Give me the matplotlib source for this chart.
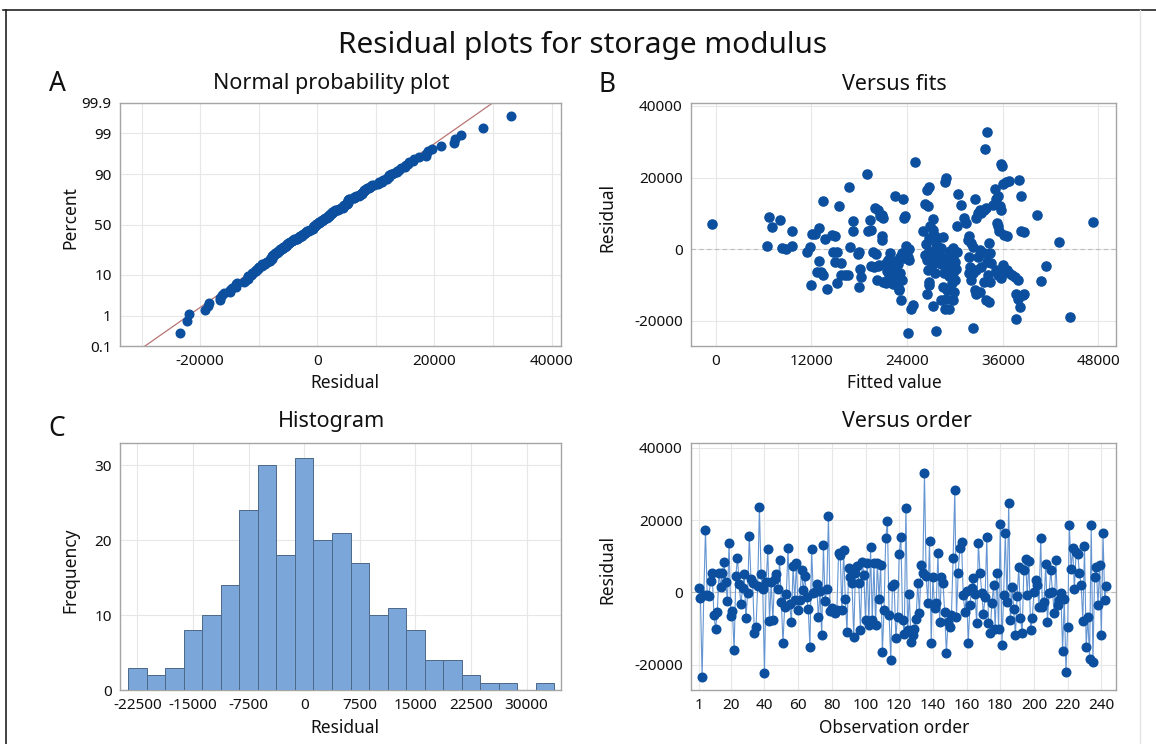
import numpy as np
import matplotlib
matplotlib.use("Agg")
import matplotlib.pyplot as plt
from statistics import NormalDist

plt.rcParams['font.family'] = ['Noto Sans', 'DejaVu Sans']
plt.rcParams['axes.unicode_minus'] = False

# residuals in observation order (1..243)
residuals = [
    1300, -1500, -23400, -600, 17300, -700, -900, 3100, 5300, -6300,
    -10100, -5500, 5300, 1600, 5400, 8300, 3000, -2400, 13600, -6500,
    -5200, -16000, 4500, 9600, 2200, -3300, 1100, 5100, -7200, -300,
    15600, 3700, 2700, -11300, -9500, 1800, 23500, 5100, 900, -22200,
    3000, 11900, -7800, 2800, -7600, 3700, 5100, 800, 9000, -2600,
    -13900, -4100, -500, 12200, -3200, -8300, 7400, -2100, 8000, -5000,
    -2000, 6200, 600, 4500, -1200, -4700, -15000, 11900, -300, 200,
    2300, -6900, 400, -11800, 13000, -2300, 1000, 21100, -5100, -4400,
    -5400, -5800, -4900, 11000, 10300, -5000, 11700, -1700, -10900, 6600,
    4300, 2500, -12300, 5400, 7300, 2500, -10400, 8500, 4800, -7700,
    8000, -9000, 12600, -7700, 8000, -9000, 8200, -1700, 7600, -16600,
    -4900, 15000, 19600, -6300, -18700, 1800, 2200, -12500, -6700, 10600,
    15400, -7700, -11400, 23300, -10500, -500, -13700, -11800, -10000, -7500,
    2500, -5800, 7600, 5300, 33000, 4500, -2900, 14300, -13900, 4300,
    -4400, -3000, 11000, -8100, 4300, 2500, -5400, -16700, -8100, -9500,
    -6300, 9400, 28300, -6700, 5300, 12200, 14000, -700, -5400, 300,
    -13900, -3500, 1100, 4000, -500, -8600, 13600, 5300, -100, -6000,
    -1200, 15200, -8600, -11200, -3000, 2000, -10000, 5300, -10200, 18900,
    -14600, -700, 16500, -2600, 24600, -7700, 1400, -4700, -11800, -900,
    7100, -7200, -11200, 6200, 9100, -700, 8800, -10400, -7200, 200,
    3500, 2000, -4000, 15000, -4000, -2600, 7800, -8100, -300, 6200,
    200, -5800, 9000, -3500, -2100, -300, -16200, -1900, -21900, -9500,
    18600, 6500, 12200, 800, 11200, 10600, 5300, 2000, -7800, 12800,
    -15000, -6900, -18500, 18600, -19200, 4300, 7100, -3500, 7600, -11800,
    16300, -2100, 1700,
]

# histogram: bar centres and frequencies
bin_centers = [-22500, -20000, -17500, -15000, -12500, -10000, -7500, -5000,
               -2500, 0, 2500, 5000, 7500, 10000, 12500, 15000, 17500, 20000,
               22500, 25000, 27500, 30000, 32500]
hist_counts = [3, 2, 3, 8, 10, 14, 24, 30, 18, 31, 20, 21, 17, 10, 11, 8,
               4, 4, 2, 1, 1, 0, 1]
bin_width = 2500

# fitted value / residual pairs
fitted = [
    -500, 6400, 6700, 7100, 8000, 8300, 8800, 9600, 9600, 11400,
    11800, 12100, 12400, 13000, 13500, 13000, 12700, 13200, 13700, 13500,
    12000, 13900, 14600, 14900, 14700, 14900, 15200, 15500, 15700, 15700,
    15200, 16200, 16600, 16700, 16900, 17200, 17200, 17800, 18000, 18100,
    18200, 18000, 19000, 19100, 19300, 19500,
    20000, 20400, 20600, 20800, 21000, 19500, 19700, 20100, 19800, 20400,
    20800, 20900, 20200, 20500, 21200, 21300, 21600, 21800, 22000, 21900,
    21700, 21400, 21000, 22300, 22500, 22600, 22900, 23000, 23100, 23500,
    23600, 23700, 23800, 23900, 24100, 24300, 24300, 23000, 23200, 23300,
    24700, 24500, 24100, 25000, 26000, 26300, 26600, 26500, 26800, 26900,
    27200, 27300, 27500, 27600, 27600, 26800, 27900, 28100, 28200, 28300,
    28500, 28700, 28900, 29300, 29400, 29500, 29800, 30000, 30200, 30300,
    30400, 30800, 29900, 29800, 29300, 28900, 28700, 27600, 27500, 26800,
    26600, 26500, 26800, 27300, 28300, 28500, 29000, 29300, 29500, 29800,
    31200, 31400, 31600, 31800, 32000, 32300, 32500, 32600, 32900, 33100,
    33300, 33700, 33900, 34000, 33800, 31800, 31900, 31800, 32000, 32300,
    32700, 32900, 33100, 33300, 33700, 34000, 34300, 34400, 34500, 34200,
    34400, 33700, 33300, 32500, 32600, 33100, 32300, 33900, 34300, 34800,
    35000, 35200, 35400, 35600, 35800, 35300, 35400, 35900, 35800, 36000,
    36400, 36800, 35500, 36200, 36500, 35200, 35400, 35700, 35800, 36000,
    36500, 36800, 37200, 37500, 37900, 37700, 37900, 38000, 38300, 38300,
    38600, 38500, 38600, 37700, 40300, 41400, 40800, 43000, 44400, 47300,
    38100,
    21500, 21800, 22100, 22400, 22600, 22900, 23100, 23300, 23600, 22200,
    28800, 29000, 29100, 29300, 29600, 29800, 30000, 30100, 29400, 28600,
    26200, 26500, 26800, 27000, 26400, 27200,
]
fit_resid = [
    7000, 800, 8900, 6100, 8200, 300, 0, 1000, 5100, -900,
    500, 4200, 4300, 5900, 13400, -3300, -6300, -6300, 2800, -7200,
    -10000, -11000, 4000, 3700, -900, -3500, -900, 12000, -3900, -7200,
    -9500, -7200, -7200, 17300, 500, 7800, 5100, -1300, -900, -5600,
    -7700, -10500, 20900, 5100, 8200, -4700,
    11500, 11000, 9200, 9600, 8700, 5400, -700, -1300, -4900, -4700,
    3600, 2600, -8600, -4400, -9100, -3900, -3000, -1100, -5600, -6700,
    -7200, -9500, -9100, -4400, 14800, -5300, -9100, -11200, -6700, 13900,
    8700, 9200, -700, 800, -2100, 0, -3000, -11400, -14200, -8600,
    -15600, -16600, -23400, 24300, 5000, 12700, 12000, 16500, 17400, 6400,
    8400, 5400, 3700, 1700, 0, 3100, -1300, -2100, -4100, 300,
    3400, 18700, 19900, -1100, -3000, -4900, -6700, -8600, 6400, -700,
    15300, 12400, -11900, -14200, -16800, -13800, -16800, -22700, -6700, -9100,
    -5800, -12400, -10000, -15900, -14200, -10500, -11400, -4900, -3000, 300,
    8700, 7300, 2600, 3600, 1700, 700, 14000, 8700, 10100, 11000,
    10100, 11000, 11500, 32600, 27900, -2100, -4900, -6700, -8600, -6700,
    -5800, -2100, -200, -700, -1100, -3500, 1700, -1100, -3900, -7200,
    -9100, -9100, -4900, -11400, -12400, -11900, -22000, -14200, -14700, 12400,
    16700, 13900, 14800, 12000, 11000, 7300, 6400, 23200, 23700, 18100,
    18700, 19000, 5000, 4000, 3700, -5800, -7200, -6700, -8100, -4400,
    -5800, -6700, -7200, -7700, -8600, -12400, -14000, 19300, 14800, 5000,
    4700, -12800, -12400, -19400, 9600, -4700, -8800, 2000, -18800, 7500,
    -16000,
    -6000, -8000, -7500, -6200, -3200, -4000, -2300, -1000, -2500, -9800,
    -2500, -4000, -6000, -7500, -9500, -2000, -3500, -5500, -500, -6500,
    -1500, -3000, -500, -2500, 1500, -4000,
]

DOT = '#0B4F9E'
LINE = '#6495D2'
BAR = '#7BA6DA'
BAR_EDGE = '#4D6887'
FIT_LINE = '#B87575'
GRID = '#E7E7E7'
FRAME = '#A5A5A5'
TXT = '#111111'

W, H = 1156, 744
fig = plt.figure(figsize=(W / 100, H / 100), dpi=100)


def px_axes(left, top, right, bottom):
    return fig.add_axes([left / W, 1 - bottom / H, (right - left) / W, (bottom - top) / H])


def px_text(x, y, s, **kw):
    fig.text(x / W, 1 - y / H, s, ha='center', va='center', color=TXT, **kw)


def style(ax):
    for sp in ax.spines.values():
        sp.set_color(FRAME)
        sp.set_linewidth(1.0)
    ax.tick_params(length=0, labelsize=11, colors=TXT, pad=6)
    ax.grid(True, color=GRID, lw=0.8)
    ax.set_axisbelow(True)


# frame around the page
fig.add_artist(plt.Line2D([3 / W, 1], [1 - 10 / H, 1 - 10 / H], color='#222222', lw=1.2))
fig.add_artist(plt.Line2D([6 / W, 6 / W], [0, 1 - 10 / H], color='#222222', lw=1.2))
fig.add_artist(plt.Line2D([1140 / W, 1140 / W], [0, 1 - 10 / H], color='#E4E4E4', lw=1.0))

px_text(583, 45, 'Residual plots for storage modulus', fontsize=21.5)

# A: normal probability plot
axA = px_axes(120, 103, 561, 346)
style(axA)
res = np.array(residuals, dtype=float)
n = len(res)
nd = NormalDist()
srt = np.sort(res)
zq = np.array([nd.inv_cdf((i - 0.3) / (n + 0.4)) for i in range(1, n + 1)])
mu, sd = res.mean(), res.std(ddof=1)
zlim = nd.inv_cdf(0.999)
zl = np.array([-zlim, zlim])
axA.plot(mu + sd * zl, zl, color=FIT_LINE, lw=0.9, zorder=2)
axA.plot(srt, zq, 'o', ms=6.2, color=DOT, mec=DOT, zorder=3)
pct = [0.1, 1, 10, 50, 90, 99, 99.9]
axA.set_yticks([nd.inv_cdf(p / 100) for p in pct])
axA.set_yticklabels(['0.1', '1', '10', '50', '90', '99', '99.9'])
axA.set_ylim(-zlim, zlim)
axA.set_xlim(-33700, 41600)
axA.set_xticks([-20000, 0, 20000, 40000])
axA.set_xticks([-30000, -10000, 10000, 30000], minor=True)
axA.grid(True, which='minor', axis='x', color=GRID, lw=0.8)
axA.tick_params(which='minor', length=0)
px_text(331, 84, 'Normal probability plot', fontsize=15.5)
px_text(57, 84, 'A', fontsize=19)
px_text(70, 218, 'Percent', fontsize=12.5, rotation=90)
px_text(345, 383, 'Residual', fontsize=12.5)

# B: versus fits
axB = px_axes(691, 103, 1116, 346)
style(axB)
axB.axhline(0, color='#BDBDBD', lw=0.8, ls=(0, (4, 3)), zorder=1)
axB.plot(fitted, fit_resid, 'o', ms=6.6, color=DOT, mec=DOT, zorder=3)
axB.set_xlim(-3100, 50200)
axB.set_ylim(-27000, 40800)
axB.set_xticks([0, 12000, 24000, 36000, 48000])
axB.set_yticks([-20000, 0, 20000, 40000])
px_text(894, 85, 'Versus fits', fontsize=15.5)
px_text(607, 85, 'B', fontsize=19)
px_text(607, 218, 'Residual', fontsize=12.5, rotation=90)
px_text(894, 383, 'Fitted value', fontsize=12.5)

# C: histogram
axC = px_axes(120, 443, 561, 690)
style(axC)
axC.bar(bin_centers, hist_counts, width=bin_width, color=BAR, edgecolor=BAR_EDGE,
        lw=0.7, zorder=3)
axC.set_xlim(-24850, 34650)
axC.set_ylim(0, 33)
axC.set_xticks([-22500, -15000, -7500, 0, 7500, 15000, 22500, 30000])
axC.set_yticks([0, 10, 20, 30])
px_text(331, 421, 'Histogram', fontsize=15.5)
px_text(57, 429, 'C', fontsize=19)
px_text(70, 570, 'Frequency', fontsize=12.5, rotation=90)
px_text(345, 728, 'Residual', fontsize=12.5)

# D: versus order
axD = px_axes(691, 443, 1116, 690)
style(axD)
order = np.arange(1, n + 1)
axD.axhline(0, color='#BDBDBD', lw=0.8, ls=(0, (4, 3)), zorder=1)
axD.plot(order, residuals, '-', color=LINE, lw=0.8, zorder=2)
axD.plot(order, residuals, 'o', ms=6.2, color=DOT, mec=DOT, zorder=3)
axD.set_xlim(-3.6, 248.7)
axD.set_ylim(-27000, 41300)
axD.set_xticks([1] + list(range(20, 241, 20)))
axD.set_yticks([-20000, 0, 20000, 40000])
px_text(907, 421, 'Versus order', fontsize=15.5)
px_text(607, 570, 'Residual', fontsize=12.5, rotation=90)
px_text(894, 728, 'Observation order', fontsize=12.5)

fig.savefig('out.png', dpi=100)
